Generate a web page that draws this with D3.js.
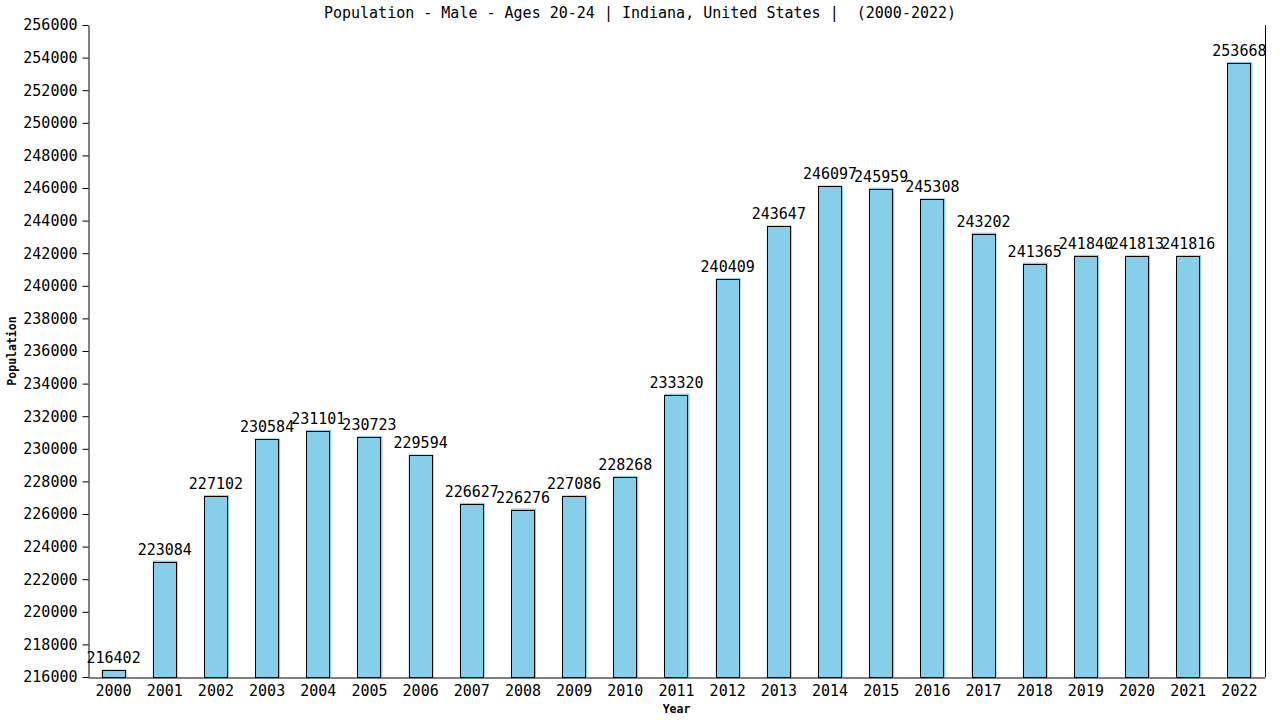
<!DOCTYPE html>
<html>
<head>
<meta charset="utf-8">
<script src="https://cdn.jsdelivr.net/npm/d3@7"></script>
<style>
body { margin: 0; background: #fff; }
text { font-family: "DejaVu Sans Mono", monospace; }
</style>
</head>
<body>
<div id="chart"></div>
<script>
// data
var years = ["2000","2001","2002","2003","2004","2005","2006","2007","2008","2009","2010","2011",
             "2012","2013","2014","2015","2016","2017","2018","2019","2020","2021","2022"];
var population = [216402,223084,227102,230584,231101,230723,229594,226627,226276,227086,228268,233320,
                  240409,243647,246097,245959,245308,243202,241365,241840,241813,241816,253668];
var yTicks = d3.range(216000, 256001, 2000);

var W = 1280, H = 720;
var margin = {top: 25, right: 15, bottom: 43, left: 88},
  width = W - margin.left - margin.right,
  height = H - margin.top - margin.bottom;

var svg = d3.select("#chart")
  .append("svg")
  .attr("width", W)
  .attr("height", H);

var g = svg.append("g")
  .attr("transform", "translate(" + margin.left + "," + margin.top + ")");

var x = d3.scaleBand().domain(years).range([0, width]).paddingInner(0.53).paddingOuter(0.265);
var y = d3.scaleLinear().domain([216000, 256000]).range([height, 0]);

// bars: blue fill shifted a pixel, black outline on top
g.selectAll("rect.fill")
  .data(population)
  .enter()
  .append("rect")
    .attr("class", "fill")
    .attr("x", function(d, i) { return x(years[i]); })
    .attr("y", function(d) { return y(d) - 1; })
    .attr("width", x.bandwidth() + 1)
    .attr("height", function(d) { return height - y(d) + 1; })
    .style("fill", "#87ceeb");

g.selectAll("rect.outline")
  .data(population)
  .enter()
  .append("rect")
    .attr("class", "outline")
    .attr("x", function(d, i) { return Math.round(x(years[i])) + 0.5; })
    .attr("y", function(d) { return Math.round(y(d)) + 0.5; })
    .attr("width", Math.round(x.bandwidth()) - 1)
    .attr("height", function(d) { return height - Math.round(y(d)); })
    .style("fill", "none")
    .style("stroke", "#000")
    .style("stroke-width", 1);

// value labels
g.selectAll("text.val")
  .data(population)
  .enter()
  .append("text")
    .attr("class", "val")
    .attr("x", function(d, i) { return x(years[i]) + x.bandwidth() / 2; })
    .attr("y", function(d) { return y(d) - 7; })
    .attr("text-anchor", "middle")
    .attr("font-size", "15px")
    .text(function(d) { return d; });

// y axis
var yAxis = g.append("g")
  .attr("transform", "translate(0.5,0)")
  .call(d3.axisLeft(y).tickValues(yTicks).tickSize(6).tickSizeOuter(0).tickFormat(d3.format("d")));
yAxis.select(".domain").attr("stroke", "#000");
yAxis.selectAll("text").attr("font-size", "15px").attr("font-family", "DejaVu Sans Mono").attr("fill", "#000").attr("dx", "-2");

// x axis
var xAxis = g.append("g")
  .attr("transform", "translate(0," + (height + 0.5) + ")")
  .call(d3.axisBottom(x).tickSize(0).tickSizeOuter(0));
xAxis.select(".domain").attr("stroke", "#000");
xAxis.selectAll("text").attr("font-size", "15px").attr("font-family", "DejaVu Sans Mono").attr("fill", "#000").attr("dy", "1.0em");

// right border
g.append("line")
  .attr("x1", width + 0.5).attr("x2", width + 0.5)
  .attr("y1", 0).attr("y2", height)
  .style("stroke", "#000");

// title and axis labels
svg.append("text")
  .attr("x", W / 2)
  .attr("y", 18)
  .attr("text-anchor", "middle")
  .attr("font-size", "15px")
  .style("white-space", "pre")
  .text("Population - Male - Ages 20-24 | Indiana, United States |  (2000-2022)");

svg.append("text")
  .attr("x", margin.left + width / 2)
  .attr("y", 713)
  .attr("text-anchor", "middle")
  .attr("font-size", "11.5px")
  .attr("font-weight", "bold")
  .text("Year");

svg.append("text")
  .attr("transform", "translate(16," + (margin.top + height / 2) + ") rotate(-90)")
  .attr("text-anchor", "middle")
  .attr("font-size", "11.5px")
  .attr("font-weight", "bold")
  .text("Population");
</script>
</body>
</html>
